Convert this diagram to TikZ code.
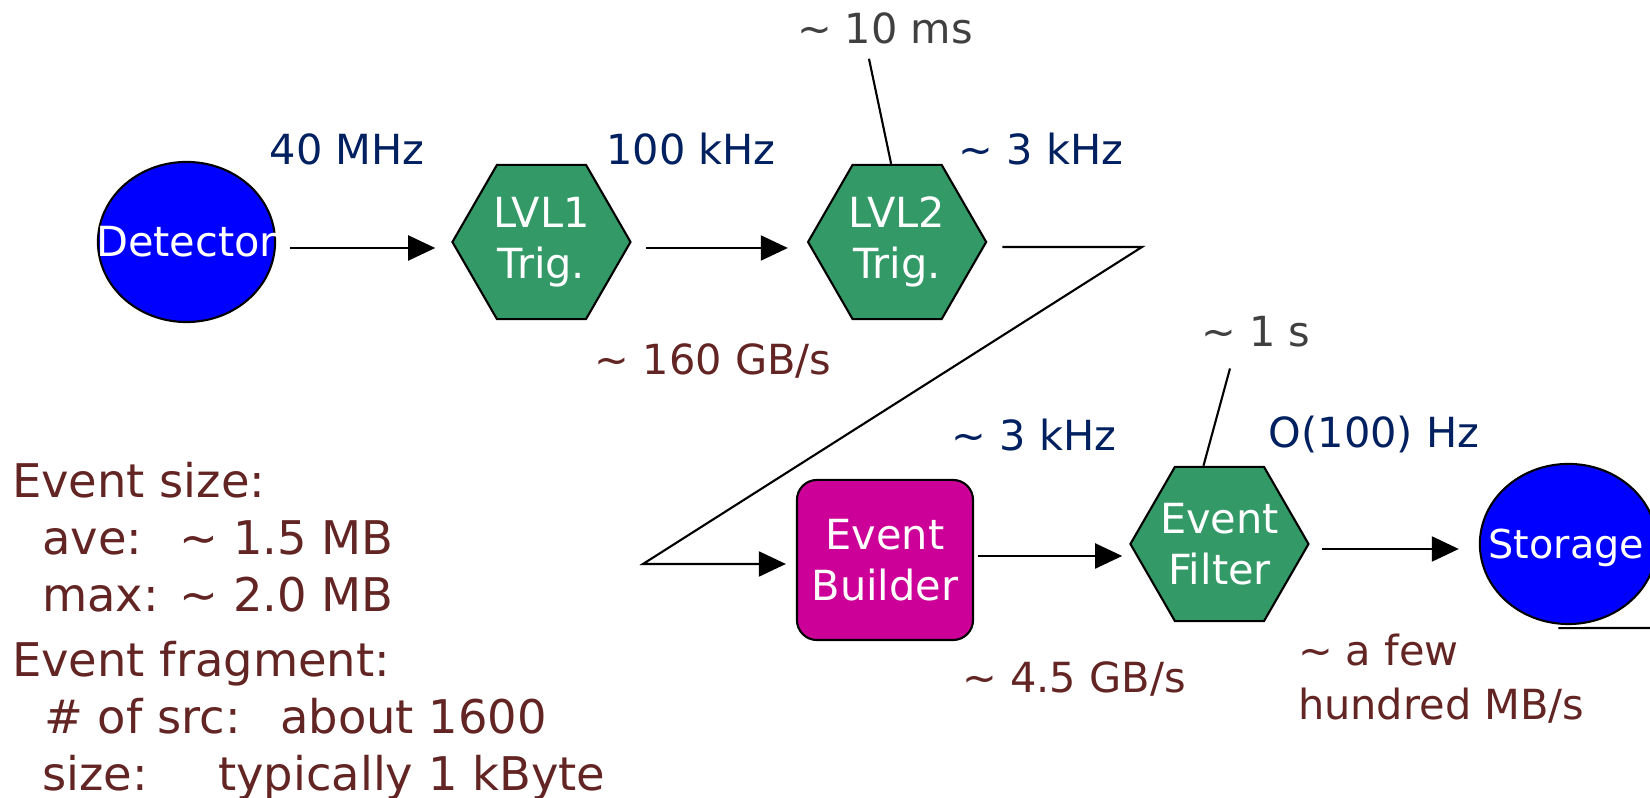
\documentclass[tikz,border=0pt]{standalone}
\usepackage{fontspec}
\setmainfont{DejaVu Sans}
\usepackage{tikz}
\usetikzlibrary{shapes.geometric,arrows.meta}
\usetikzlibrary{positioning}
\definecolor{rateblue}{RGB}{0,32,96}
\definecolor{bwred}{RGB}{99,37,35}
\definecolor{latgray}{RGB}{64,64,64}
\definecolor{trigreen}{RGB}{51,153,102}
\definecolor{ebmag}{RGB}{204,0,153}
\tikzset{>={Triangle[length=0.27cm,width=0.25cm]}, font=\fontsize{11.8}{14.6}\selectfont}
\tikzstyle{trig} = [draw, fill=trigreen, regular polygon, regular polygon sides=6, minimum size=1.78cm, inner sep=-4pt, text=white, align=center]
\tikzstyle{store} = [draw, fill=blue, ellipse, minimum width=1.77cm, minimum height=1.60cm, inner sep=0pt]
\tikzstyle{build} = [draw, fill=ebmag, rectangle, rounded corners=0.2cm, minimum width=1.76cm, minimum height=1.60cm, text=white, align=center]
\tikzstyle{inwhite} = [text=white, inner sep=0pt]
\tikzstyle{rate} = [text=rateblue, inner sep=0pt]
\tikzstyle{bw} = [text=bwred, inner sep=0pt]
\tikzstyle{lat} = [text=latgray, inner sep=0pt]
\newcommand{\apx}{\textasciitilde}

\begin{document}
\begin{tikzpicture}[x=0.01cm, y=-0.01cm, line width=0.6pt]
		\useasboundingbox (0,0) rectangle (1650,798);

		\node [store] (det) at (186.5,242) {};
		\node [inwhite] (det_txt) at (det) {Detector};
		\node [trig, right=1.75cm of det] (lvl1) {LVL1\\Trig.};
		\node [trig, right=1.75cm of lvl1] (lvl2) {LVL2\\Trig.};

		\node [build] (eb) at (885,560) {Event\\Builder};
		\node [trig, right=1.55cm of eb, yshift=0.16cm] (ef) {Event\\Filter};
		\node [store, right=1.69cm of ef] (sto) {};
		\node [inwhite, font=\fontsize{11.3}{14}\selectfont, xshift=-0.02cm, yshift=-0.04cm] (sto_txt) at (sto) {Storage};

		\node [rate] (r_det) at (347,149) {40 MHz};
		\node [rate] (r_lvl1) at (691,149) {100 kHz};
		\node [rate] (r_lvl2) at (1041,149) {\apx{} 3 kHz};
		\node [lat] (t_lvl2) at (885,28) {\apx{} 10 ms};
		\node [bw] (b_lvl1) at (713,361) {\apx{} 160 GB/s};

		\node [rate] (r_eb) at (1034,435) {\apx{} 3 kHz};
		\node [rate] (r_ef) at (1374,435) {O(100) Hz};
		\node [lat] (t_ef) at (1256,332) {\apx{} 1 s};
		\node [bw] (b_eb) at (1074,679) {\apx{} 4.5 GB/s};
		\node [bw, anchor=north west, align=left, font=\fontsize{11.8}{15.3}\selectfont] (b_ef) at (1297,633) {\apx{} a few\\hundred MB/s};

		\node [bw, anchor=north west, align=left, font=\fontsize{13.2}{16.3}\selectfont] (evsize) at (11,461) {Event size:\\
			\hspace*{0.3cm}\makebox[1.375cm][l]{ave:}\apx{} 1.5 MB\\
			\hspace*{0.3cm}\makebox[1.375cm][l]{max:}\apx{} 2.0 MB};
		\node [bw, anchor=north west, align=left, font=\fontsize{13.2}{16.3}\selectfont] (evfrag) at (11,640) {Event fragment:\\
			\hspace*{0.32cm}\makebox[2.36cm][l]{\# of src:}about 1600\\
			\hspace*{0.3cm}\makebox[1.76cm][l]{size:}typically 1 kByte};

		\coordinate (turn_hi) at (1142,247);
		\coordinate (turn_lo) at (643,564);
		\coordinate (cut_r) at (1650,628);

		\draw [->, shorten <=0.14cm, shorten >=0.16cm] ([yshift=-0.06cm]det.east) -- ([yshift=-0.06cm]lvl1.west);
		\draw [->, shorten <=0.14cm, shorten >=0.19cm] ([yshift=-0.06cm]lvl1.east) -- ([yshift=-0.06cm]lvl2.west);
		\draw [->, shorten >=0.10cm] ([xshift=0.15cm, yshift=-0.05cm]lvl2.east) -- (turn_hi) -- (turn_lo) -- (turn_lo -| eb.west);
		\draw [->, shorten <=0.04cm, shorten >=0.07cm] ([yshift=0.04cm]eb.east) -- ([yshift=0.04cm]eb.east -| ef.west);
		\draw [->, shorten <=0.12cm, shorten >=0.20cm] ([yshift=-0.05cm]ef.east) -- ([yshift=-0.05cm]sto.west);

		\draw ([xshift=-0.16cm, yshift=-0.14cm]t_lvl2.south) -- ([xshift=-0.06cm]lvl2.north);
		\draw ([xshift=-0.26cm, yshift=-0.20cm]t_ef.south) -- ([xshift=-0.16cm]ef.north);
		\draw ([xshift=-0.10cm, yshift=-0.03cm]sto.south) -- (cut_r);
	\end{tikzpicture}
\end{document}
